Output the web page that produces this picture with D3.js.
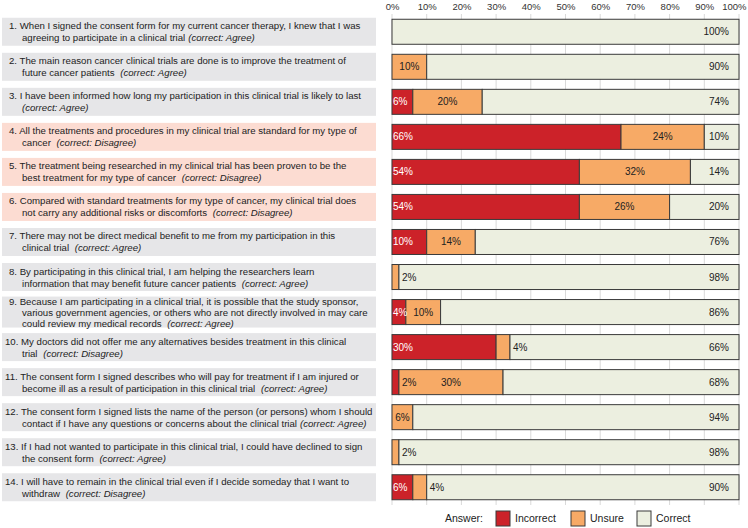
<!DOCTYPE html>
<html><head><meta charset="utf-8">
<script src="https://cdn.jsdelivr.net/npm/d3@7/dist/d3.min.js"></script>
<style>
html,body{margin:0;padding:0;background:#fff;}
svg{display:block;font-family:"Liberation Sans",Arial,sans-serif;}
</style></head>
<body>
<svg id="chart" width="748" height="528"></svg>
<script>
// ---- data ----
const questions = [
  ["1. When I signed the consent form for my current cancer therapy, I knew that I was", "agreeing to participate in a clinical trial"],
  ["2. The main reason cancer clinical trials are done is to improve the treatment of", "future cancer patients "],
  ["3. I have been informed how long my participation in this clinical trial is likely to last", ""],
  ["4. All the treatments and procedures in my clinical trial are standard for my type of", "cancer "],
  ["5. The treatment being researched in my clinical trial has been proven to be the", "best treatment for my type of cancer "],
  ["6. Compared with standard treatments for my type of cancer, my clinical trial does", "not carry any additional risks or discomforts "],
  ["7. There may not be direct medical benefit to me from my participation in this", "clinical trial "],
  ["8. By participating in this clinical trial, I am helping the researchers learn", "information that may benefit future cancer patients "],
  ["9. Because I am participating in a clinical trial, it is possible that the study sponsor,", "various government agencies, or others who are not directly involved in may care", "could review my medical records "],
  ["10. My doctors did not offer me any alternatives besides treatment in this clinical", "trial "],
  ["11. The consent form I signed describes who will pay for treatment if I am injured or", "become ill as a result of participation in this clinical trial "],
  ["12. The consent form I signed lists the name of the person (or persons) whom I should", "contact if I have any questions or concerns about the clinical trial"],
  ["13. If I had not wanted to participate in this clinical trial, I could have declined to sign", "the consent form "],
  ["14. I will have to remain in the clinical trial even if I decide someday that I want to", "withdraw "]
];
const correctAnswer = ["Agree","Agree","Agree","Disagree","Disagree","Disagree","Agree","Agree","Agree","Disagree","Agree","Agree","Agree","Disagree"];
const incorrect = [0, 0, 6, 66, 54, 54, 10, 0, 4, 30, 2, 0, 0, 6];
const unsure    = [0, 10, 20, 24, 32, 26, 14, 2, 10, 4, 30, 6, 2, 4];
const correct   = [100, 90, 74, 10, 14, 20, 76, 98, 86, 66, 68, 94, 98, 90];
const xTicks = [0,10,20,30,40,50,60,70,80,90,100];
const seriesNames = ["Incorrect","Unsure","Correct"];
const seriesColors = ["#cc2229","#f7aa66","#ecefe0"];
const highlightRows = [3,4,5]; // rows with pink label boxes

// ---- setup ----
const svg = d3.select("#chart");
const x = d3.scaleLinear().domain([0,100]).range([392,739]);
const ids = questions.map((q,i)=>i);
const y = d3.scaleBand().domain(ids).range([14,505]).paddingInner(0.286).paddingOuter(0.15);

// gridlines + top axis
const axis = d3.axisTop(x).tickValues(xTicks).tickFormat(d=>d+"%").tickSize(0);
const gAxis = svg.append("g").attr("transform","translate(0,10)").call(axis);
gAxis.select(".domain").remove();
gAxis.selectAll("text").attr("font-size","9.5px").attr("fill","#333").attr("dy","0.3em");
gAxis.selectAll(".tick").filter(d=>d===100).select("text")
  .attr("text-anchor","end").attr("x",7);
svg.append("g").selectAll("line").data(xTicks).join("line")
  .attr("x1",d=>x(d)).attr("x2",d=>x(d)).attr("y1",14).attr("y2",505)
  .attr("stroke","#d9d9d9").attr("stroke-width",1);

// label boxes
const lbl = svg.append("g");
questions.forEach((lines,i)=>{
  const lh = lines.length===3 ? 11 : 12;
  const cy = y(i)+y.bandwidth()/2;
  const h = lines.length===3 ? 31 : 28;
  lbl.append("rect").attr("x",2).attr("y",cy-h/2).attr("width",374).attr("height",h)
    .attr("fill", highlightRows.includes(i) ? "#fcdcd2" : "#e6e6e8");
  const t = lbl.append("g").attr("font-size","9.65px").attr("fill","#222");
  lines.forEach((line,j)=>{
    const tx = j===0 ? (i<9?9:5) : 22;
    const by = cy + (j-(lines.length-1)/2)*lh + 3.5;
    const txt = t.append("text").attr("x",tx).attr("y",by);
    txt.append("tspan").text(line);
    if (j===lines.length-1) {
      txt.append("tspan").attr("dx", line===""?0:3).attr("font-style","italic")
        .text("(correct: "+correctAnswer[i]+")");
    }
  });
});

// bars
const rows = ids.map(i=>({i, vals:[incorrect[i],unsure[i],correct[i]]}));
const gBars = svg.append("g");
rows.forEach(r=>{
  let acc = 0;
  r.vals.forEach((v,k)=>{
    const x0 = acc, x1 = acc+v; acc = x1;
    if (v<=0) return;
    gBars.append("rect").attr("x",x(x0)).attr("y",y(r.i)).attr("width",x(x1)-x(x0)).attr("height",y.bandwidth())
      .attr("fill",seriesColors[k]).attr("stroke","#3a3a3a").attr("stroke-width",1);
  });
});
// labels
const gLab = svg.append("g").attr("font-size","10px");
rows.forEach(r=>{
  const cy = y(r.i)+y.bandwidth()/2 + 3.5;
  let acc = 0;
  r.vals.forEach((v,k)=>{
    const x0 = acc, x1 = acc+v; acc = x1;
    if (v<=0) return;
    const t = gLab.append("text").attr("y",cy).text(v+"%");
    if (k===2) {
      t.attr("x",x(100)-10).attr("text-anchor","end").attr("fill","#222");
    } else if (k===0 && v>=4) {
      t.attr("x",x(x0)+1).attr("fill","#fff");
    } else if (v<=4) {
      t.attr("x",x(x1)+3).attr("fill","#222");
    } else {
      t.attr("x",(x(x0)+x(x1))/2).attr("text-anchor","middle").attr("fill","#222");
    }
  });
});

// legend
const lg = svg.append("g").attr("font-size","10.5px").attr("fill","#222");
lg.append("text").attr("x",445).attr("y",522).text("Answer:");
const legX = [496,571,637];
seriesNames.forEach((s,k)=>{
  lg.append("rect").attr("x",legX[k]).attr("y",511).attr("width",14).attr("height",15)
    .attr("fill",seriesColors[k]).attr("stroke","#3a3a3a");
  lg.append("text").attr("x",legX[k]+19).attr("y",522).text(s);
});
</script>
</body></html>
